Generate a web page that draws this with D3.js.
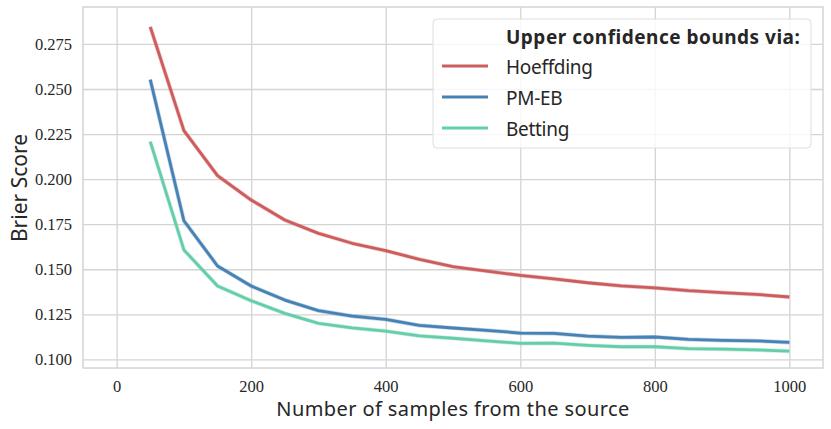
<!DOCTYPE html>
<html lang='en'>
  <head>
    <meta charset='utf-8'>
    <style>
      body { margin: 0; background: #fff; }
      svg { display: block; }
    </style>
  </head>
  <body>
    <div id='chart'></div>

    <script src='https://cdn.jsdelivr.net/npm/d3@7/dist/d3.min.js'></script>
    <script>
      // sample sizes on the x axis
      var samples = [50, 100, 150, 200, 250, 300, 350, 400, 450, 500,
                     550, 600, 650, 700, 750, 800, 850, 900, 950, 1000];

      var hoeffding = [0.2845, 0.2269, 0.2019, 0.1884, 0.1773, 0.1699, 0.1644, 0.1603, 0.1555, 0.1514,
                       0.1490, 0.1466, 0.1447, 0.1425, 0.1408, 0.1397, 0.1381, 0.1370, 0.1361, 0.1346];
      var pmeb = [0.2552, 0.1769, 0.1518, 0.1407, 0.1329, 0.1270, 0.1240, 0.1222, 0.1188, 0.1174,
                  0.1161, 0.1146, 0.1144, 0.1129, 0.1122, 0.1124, 0.1111, 0.1105, 0.1103, 0.1094];
      var betting = [0.2208, 0.1607, 0.1407, 0.1325, 0.1255, 0.1200, 0.1175, 0.1157, 0.1130, 0.1117,
                     0.1103, 0.1089, 0.1090, 0.1078, 0.1070, 0.1070, 0.1059, 0.1057, 0.1053, 0.1046];

      var seriesNames = ['Hoeffding', 'PM-EB', 'Betting'];
      var seriesColors = ['#cd5c5c', '#4682b4', '#66cdaa'];
      var seriesValues = [hoeffding, pmeb, betting];

      var xTicks = [0, 200, 400, 600, 800, 1000];
      var yTicks = [0.100, 0.125, 0.150, 0.175, 0.200, 0.225, 0.250, 0.275];

      var width = 831, height = 429;
      var margin = {top: 7, right: 8, bottom: 61, left: 83};

      var svg = d3.select('#chart').append('svg')
          .attr('width', width)
          .attr('height', height);

      var x = d3.scaleLinear().domain([-50, 1050]).range([margin.left, width - margin.right]);
      var y = d3.scaleLinear().domain([0.0952, 0.2955]).range([height - margin.bottom, margin.top]);

      var serif = "'Liberation Serif', 'DejaVu Serif', serif";
      var sans = "'Noto Sans', 'DejaVu Sans', sans-serif";
      var textColor = '#262626';
      var gridColor = '#d4d4d4';

      // grid
      svg.append('g')
          .attr('transform', 'translate(0,' + (height - margin.bottom) + ')')
          .call(d3.axisBottom(x).tickValues(xTicks).tickSize(-(height - margin.top - margin.bottom)).tickFormat(''))
          .call(function (g) { g.select('.domain').remove(); })
          .selectAll('line').attr('stroke', gridColor).attr('stroke-width', 1.3);

      svg.append('g')
          .attr('transform', 'translate(' + margin.left + ',0)')
          .call(d3.axisLeft(y).tickValues(yTicks).tickSize(-(width - margin.left - margin.right)).tickFormat(''))
          .call(function (g) { g.select('.domain').remove(); })
          .selectAll('line').attr('stroke', gridColor).attr('stroke-width', 1.3);

      // tick labels
      var xAxis = svg.append('g')
          .attr('transform', 'translate(0,' + (height - margin.bottom) + ')')
          .call(d3.axisBottom(x).tickValues(xTicks).tickSize(0).tickPadding(12).tickFormat(d3.format('d')));
      xAxis.select('.domain').remove();
      xAxis.selectAll('text').attr('font-family', serif).attr('font-size', 16.5).attr('fill', textColor);

      var yAxis = svg.append('g')
          .attr('transform', 'translate(' + margin.left + ',0)')
          .call(d3.axisLeft(y).tickValues(yTicks).tickSize(0).tickPadding(11).tickFormat(d3.format('.3f')));
      yAxis.select('.domain').remove();
      yAxis.selectAll('text').attr('font-family', serif).attr('font-size', 16.5).attr('fill', textColor);

      // frame
      svg.append('rect')
          .attr('x', margin.left).attr('y', margin.top)
          .attr('width', width - margin.left - margin.right)
          .attr('height', height - margin.top - margin.bottom)
          .attr('fill', 'none').attr('stroke', gridColor).attr('stroke-width', 1.5);

      // lines
      var line = d3.line()
          .x(function (d, i) { return x(samples[i]); })
          .y(function (d) { return y(d); });

      seriesValues.forEach(function (vals, k) {
        svg.append('path')
            .datum(vals)
            .attr('fill', 'none')
            .attr('stroke', seriesColors[k])
            .attr('stroke-opacity', 0.35)
            .attr('stroke-width', 4.2)
            .attr('d', line);
        svg.append('path')
            .datum(vals)
            .attr('fill', 'none')
            .attr('stroke', seriesColors[k])
            .attr('stroke-width', 2.8)
            .attr('stroke-linejoin', 'round')
            .attr('d', line);
      });

      // legend
      var legend = svg.append('g').attr('transform', 'translate(433,19)');
      legend.append('rect')
          .attr('width', 378).attr('height', 129)
          .attr('rx', 4)
          .attr('fill', '#fff').attr('fill-opacity', 0.8)
          .attr('stroke', '#dedede').attr('stroke-width', 1);
      legend.append('text')
          .attr('x', 73).attr('y', 25)
          .attr('font-family', sans).attr('font-size', 19).attr('font-weight', 'bold')
          .attr('letter-spacing', 0.5)
          .attr('fill', textColor)
          .text('Upper confidence bounds via:');
      seriesNames.forEach(function (name, k) {
        var yy = 47 + k * 31;
        legend.append('line')
            .attr('x1', 9).attr('x2', 55)
            .attr('y1', yy).attr('y2', yy)
            .attr('stroke', seriesColors[k]).attr('stroke-width', 2.8);
        legend.append('text')
            .attr('x', 73).attr('y', yy + 8)
            .attr('font-family', sans).attr('font-size', 19)
            .attr('letter-spacing', -0.3)
            .attr('fill', textColor)
            .text(name);
      });

      // axis titles
      svg.append('text')
          .attr('x', (276 + 630) / 2).attr('y', 416)
          .attr('text-anchor', 'middle')
          .attr('font-family', sans).attr('font-size', 20)
          .attr('letter-spacing', 0.4)
          .attr('fill', textColor)
          .text('Number of samples from the source');

      svg.append('text')
          .attr('transform', 'translate(27,' + 188 + ') rotate(-90)')
          .attr('text-anchor', 'middle')
          .attr('font-family', sans).attr('font-size', 21)
          .attr('fill', textColor)
          .text('Brier Score');
    </script>
  </body>
</html>
